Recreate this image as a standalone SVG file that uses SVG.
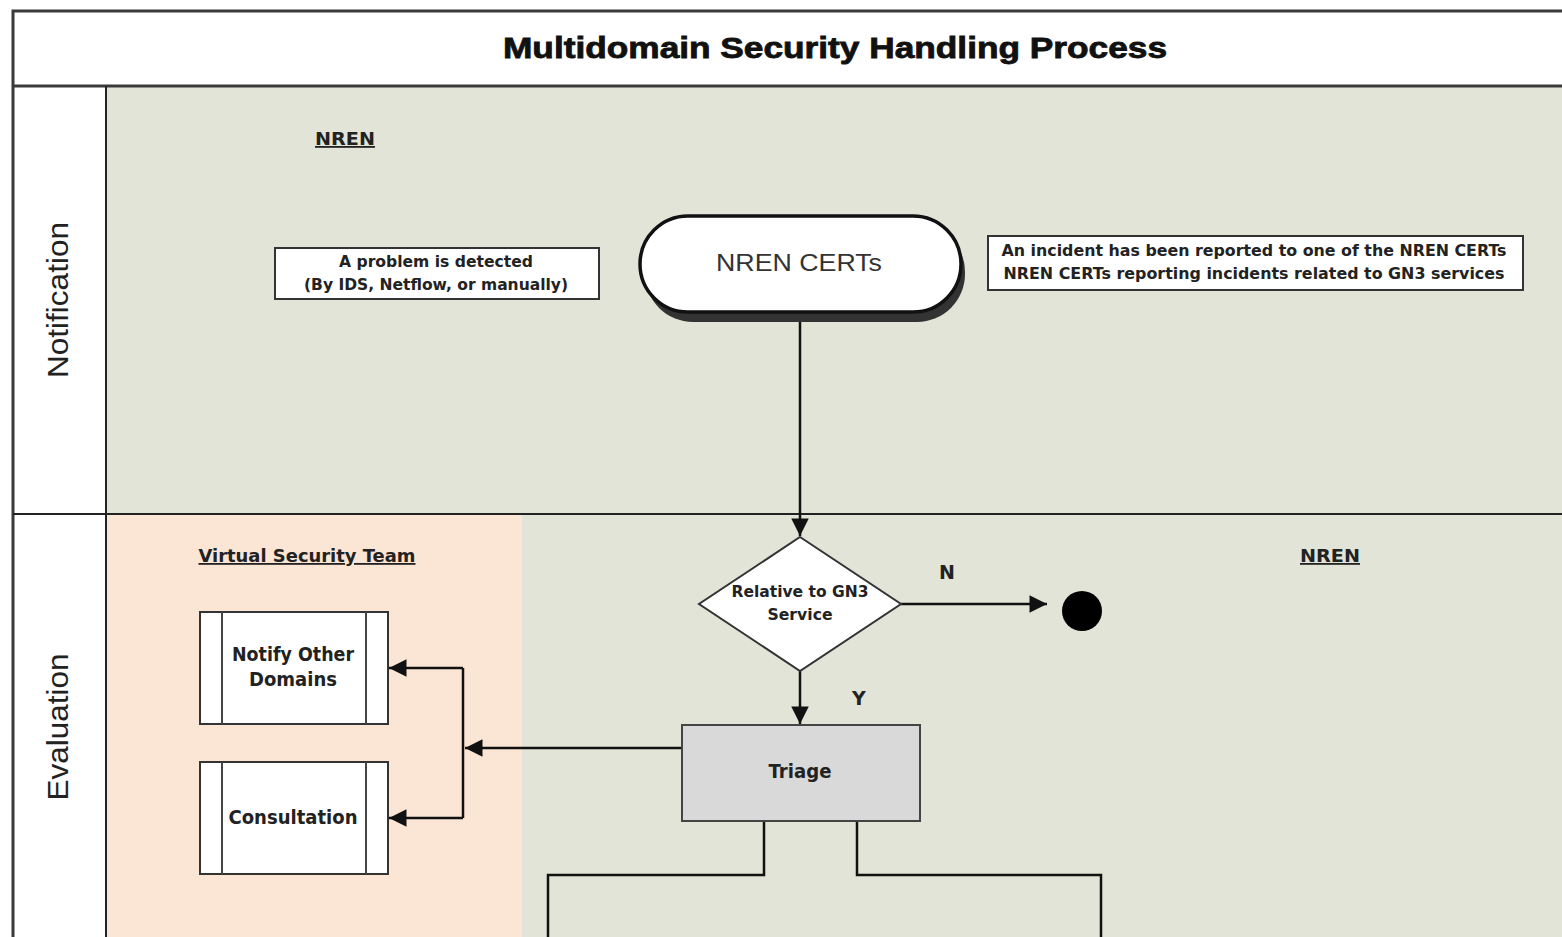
<svg xmlns="http://www.w3.org/2000/svg" width="1562" height="937" viewBox="0 0 1562 937">
  <style>
    .frame { fill: none; stroke: #3a3a3a; stroke-width: 3; }
    .div { stroke: #222; stroke-width: 2; fill: none; }
    .lane-label { font-family: "Liberation Sans", Arial, sans-serif; font-size: 29px; fill: #222; text-anchor: middle; }
    .pool-label { font-family: "DejaVu Sans", Verdana, sans-serif; font-size: 18px; font-weight: bold; fill: #222; text-decoration: underline; text-anchor: middle; }
    .note { fill: #fff; stroke: #333; stroke-width: 2; }
    .note-text { font-family: "DejaVu Sans", Verdana, sans-serif; font-size: 15.5px; font-weight: bold; fill: #222; text-anchor: middle; }
    .node-text { font-family: "DejaVu Sans", Verdana, sans-serif; font-size: 19px; font-weight: bold; fill: #222; text-anchor: middle; }
    .conn { fill: none; stroke: #111; stroke-width: 2.5; }
    .sub { fill: #fff; stroke: #333; stroke-width: 2; }
    .bar { stroke: #444; stroke-width: 2; }
  </style>
  <defs>
    <marker id="arrow" viewBox="0 0 10 10" refX="10" refY="5" markerWidth="7.5" markerHeight="7" markerUnits="strokeWidth" orient="auto">
      <path d="M0,0 L10,5 L0,10 z" fill="#111"/>
    </marker>
  </defs>

  <!-- background -->
  <rect x="0" y="0" width="1562" height="937" fill="#fff"/>

  <!-- swimlane fills -->
  <rect x="106" y="86" width="1460" height="428" fill="#e1e4d6"/>
  <rect x="106" y="514" width="416" height="430" fill="#fbe5d4"/>
  <rect x="522" y="514" width="1044" height="430" fill="#e1e4d6"/>

  <!-- pool frame and lane dividers -->
  <g id="frame">
    <path class="frame" d="M1570,11 H13 V945"/>
    <line class="frame" x1="13" y1="86" x2="1570" y2="86"/>
    <line class="div" x1="106" y1="86" x2="106" y2="945"/>
    <line class="div" x1="13" y1="514" x2="1570" y2="514"/>
    <text x="835" y="58" font-family="'Liberation Sans', Arial, sans-serif" font-size="29" font-weight="bold" fill="#111" stroke="#111" stroke-width="0.8" text-anchor="middle" textLength="664" lengthAdjust="spacingAndGlyphs">Multidomain Security Handling Process</text>
  </g>

  <!-- lane labels -->
  <g id="lane-notification">
    <text class="lane-label" transform="translate(68,300) rotate(-90)" textLength="156" lengthAdjust="spacingAndGlyphs">Notification</text>
    <text class="pool-label" x="345" y="145" textLength="60" lengthAdjust="spacingAndGlyphs">NREN</text>
  </g>
  <g id="lane-evaluation">
    <text class="lane-label" transform="translate(68,727) rotate(-90)" textLength="147" lengthAdjust="spacingAndGlyphs">Evaluation</text>
    <text class="pool-label" x="307" y="562" textLength="217" lengthAdjust="spacingAndGlyphs">Virtual Security Team</text>
    <text class="pool-label" x="1330" y="562" textLength="60" lengthAdjust="spacingAndGlyphs">NREN</text>
  </g>

  <!-- connectors -->
  <g id="connectors">
    <line class="conn" x1="800" y1="314" x2="800" y2="536" marker-end="url(#arrow)"/>
    <line class="conn" x1="901" y1="604" x2="1047" y2="604" marker-end="url(#arrow)"/>
    <text class="node-text" x="947" y="579" font-size="18">N</text>
    <line class="conn" x1="800" y1="671" x2="800" y2="724" marker-end="url(#arrow)"/>
    <text class="node-text" x="859" y="705" font-size="18">Y</text>
    <line class="conn" x1="682" y1="748" x2="465" y2="748" marker-end="url(#arrow)"/>
    <polyline class="conn" points="463,668 463,818"/>
    <line class="conn" x1="463" y1="668" x2="389" y2="668" marker-end="url(#arrow)"/>
    <line class="conn" x1="463" y1="818" x2="389" y2="818" marker-end="url(#arrow)"/>
    <polyline class="conn" points="764,821 764,875 548,875 548,945"/>
    <polyline class="conn" points="857,821 857,875 1101,875 1101,945"/>
  </g>

  <!-- notes -->
  <g id="note-detected">
    <rect class="note" x="275" y="248" width="324" height="51"/>
    <text class="note-text" x="436" y="267" textLength="194" lengthAdjust="spacingAndGlyphs">A problem is detected</text>
    <text class="note-text" x="436" y="290" textLength="264" lengthAdjust="spacingAndGlyphs">(By IDS, Netflow, or manually)</text>
  </g>
  <g id="note-incident">
    <rect class="note" x="988" y="236" width="535" height="54"/>
    <text class="note-text" x="1254" y="256" textLength="505" lengthAdjust="spacingAndGlyphs">An incident has been reported to one of the NREN CERTs</text>
    <text class="note-text" x="1254" y="279" textLength="501" lengthAdjust="spacingAndGlyphs">NREN CERTs reporting incidents related to GN3 services</text>
  </g>

  <!-- start terminal -->
  <g id="nren-certs">
    <rect x="645" y="224" width="320" height="98" rx="48" fill="#333"/>
    <rect x="640" y="216" width="321" height="96" rx="48" fill="#fff" stroke="#111" stroke-width="3.5"/>
    <text x="799" y="271" font-family="'Liberation Sans', Arial, sans-serif" font-size="24" fill="#333" text-anchor="middle" textLength="166" lengthAdjust="spacingAndGlyphs">NREN CERTs</text>
  </g>

  <!-- decision -->
  <g id="decision-gn3">
    <polygon points="800,537 901,604 800,671 699,604" fill="#fff" stroke="#333" stroke-width="2"/>
    <text class="note-text" x="800" y="597" font-size="15" textLength="137" lengthAdjust="spacingAndGlyphs">Relative to GN3</text>
    <text class="note-text" x="800" y="620" font-size="15" textLength="65" lengthAdjust="spacingAndGlyphs">Service</text>
  </g>

  <!-- end event -->
  <g id="end">
    <circle cx="1082" cy="611" r="20" fill="#000"/>
  </g>

  <!-- triage -->
  <g id="triage">
    <rect x="682" y="725" width="238" height="96" fill="#d9d9d9" stroke="#444" stroke-width="2"/>
    <text class="node-text" x="800" y="778" textLength="63" lengthAdjust="spacingAndGlyphs">Triage</text>
  </g>

  <!-- subprocesses -->
  <g id="notify-domains">
    <rect class="sub" x="200" y="612" width="188" height="112"/>
    <line class="bar" x1="222" y1="612" x2="222" y2="724"/>
    <line class="bar" x1="366" y1="612" x2="366" y2="724"/>
    <text class="node-text" x="293" y="661" textLength="122" lengthAdjust="spacingAndGlyphs">Notify Other</text>
    <text class="node-text" x="293" y="686" textLength="88" lengthAdjust="spacingAndGlyphs">Domains</text>
  </g>
  <g id="consultation">
    <rect class="sub" x="200" y="762" width="188" height="112"/>
    <line class="bar" x1="222" y1="762" x2="222" y2="874"/>
    <line class="bar" x1="366" y1="762" x2="366" y2="874"/>
    <text class="node-text" x="293" y="824" textLength="129" lengthAdjust="spacingAndGlyphs">Consultation</text>
  </g>
</svg>
